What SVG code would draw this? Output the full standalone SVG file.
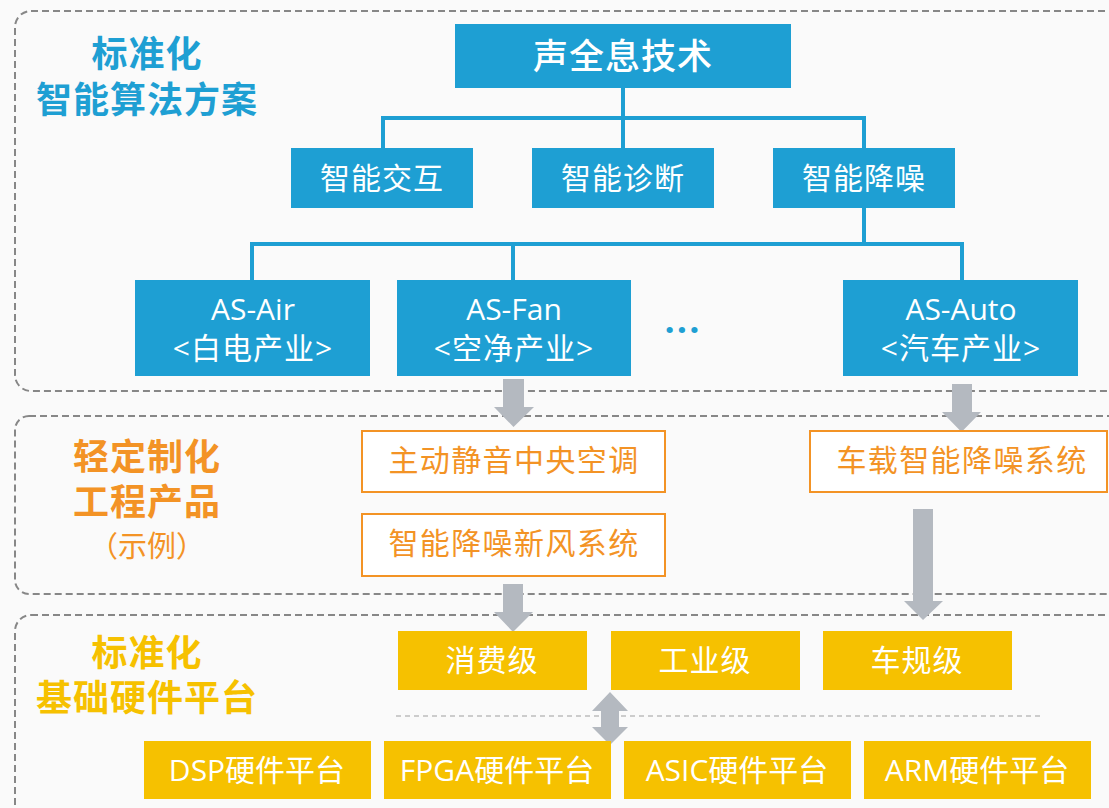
<svg xmlns="http://www.w3.org/2000/svg" width="1109" height="808" viewBox="0 0 1109 808">
<style>
text{font-family:"Open Sans","Noto Sans CJK SC",sans-serif;text-anchor:middle}
.panel{fill:none;stroke:#878787;stroke-width:2;stroke-dasharray:7 4}
.blue{fill:#1E9FD3}
.yel{fill:#F6C100}
.ora{fill:#FFFFFF;stroke:#F39325;stroke-width:2}
.wt{fill:#FFFFFF;font-size:30px;letter-spacing:1px}
.ot{fill:#F39325;font-size:30px;letter-spacing:1.4px}
.lat{fill:#FFFFFF;font-size:30px}
.tree{fill:none;stroke:#1E9FD3;stroke-width:4;stroke-linejoin:miter;stroke-linecap:square}
.arr{fill:#B4B9C0}
.ttl{font-size:36px;font-weight:bold;letter-spacing:1px}
</style>
<rect width="1109" height="808" fill="#FAFAFA"/>
<g id="panels">
<rect class="panel" x="15" y="11" width="1130" height="380" rx="16"/>
<rect class="panel" x="15" y="416" width="1130" height="178" rx="14"/>
<rect class="panel" x="15" y="615" width="1130" height="210" rx="16"/>
<line x1="396" y1="716" x2="1043" y2="716" stroke="#BDBDBD" stroke-width="1.5" stroke-dasharray="5 4"/>
</g>
<g id="titles">
<text class="ttl" x="147" y="67" fill="#1E9FD3">标准化</text>
<text class="ttl" x="147" y="113" fill="#1E9FD3">智能算法方案</text>
<text class="ttl" x="147" y="470" fill="#F39325">轻定制化</text>
<text class="ttl" x="147" y="515" fill="#F39325">工程产品</text>
<text x="147" y="557" fill="#F39325" style="font-size:29px">（示例）</text>
<text class="ttl" x="147" y="666" fill="#F6C100">标准化</text>
<text class="ttl" x="147" y="711" fill="#F6C100">基础硬件平台</text>
</g>
<g id="connectors">
<polyline class="tree" points="623,88 623,118"/>
<polyline class="tree" points="383,148 383,118 864,118 864,148"/>
<polyline class="tree" points="623,118 623,148"/>
<polyline class="tree" points="864,208 864,244"/>
<polyline class="tree" points="252,280 252,244 962,244 962,280"/>
<polyline class="tree" points="513,244 513,280"/>
<polygon class="arr" points="503,379 524,379 524,407 534,407 513.5,427 494,407 503,407"/>
<polygon class="arr" points="503,584 523,584 523,612 533,612 513,632 494,612 503,612"/>
<polygon class="arr" points="952,384 972,384 972,412 981,412 961.5,432 942,412 952,412"/>
<polygon class="arr" points="913,509 933,509 933,601 943,601 923,620 904,601 913,601"/>
<polygon class="arr" points="610,692 628,711 619,711 619,727 628,727 610,745 592,727 601,727 601,711 592,711"/>
</g>
<g id="n-root"><rect class="blue" x="455" y="24" width="336" height="64"/><text class="wt" x="623" y="69" style="font-size:35px;font-weight:500">声全息技术</text></g>
<g id="n-jiaohu"><rect class="blue" x="291" y="148" width="182" height="60"/><text class="wt" x="382" y="189">智能交互</text></g>
<g id="n-zhenduan"><rect class="blue" x="532" y="148" width="182" height="60"/><text class="wt" x="623" y="189">智能诊断</text></g>
<g id="n-jiangzao"><rect class="blue" x="773" y="148" width="182" height="60"/><text class="wt" x="864" y="189">智能降噪</text></g>
<g id="n-asair"><rect class="blue" x="135" y="280" width="235" height="96"/><text class="lat" x="253" y="320">AS-Air</text><text class="wt" x="253" y="359">&lt;白电产业&gt;</text></g>
<g id="n-asfan"><rect class="blue" x="397" y="280" width="234" height="96"/><text class="lat" x="514" y="320">AS-Fan</text><text class="wt" x="514" y="359">&lt;空净产业&gt;</text></g>
<g id="n-dots"><text x="683" y="333" fill="#1E9FD3" style="font-size:36px;font-weight:bold;letter-spacing:2px">...</text></g>
<g id="n-asauto"><rect class="blue" x="843" y="280" width="235" height="96"/><text class="lat" x="961" y="320">AS-Auto</text><text class="wt" x="961" y="359">&lt;汽车产业&gt;</text></g>
<g id="n-kongtiao"><rect class="ora" x="362" y="431" width="303" height="61"/><text class="ot" x="514" y="471">主动静音中央空调</text></g>
<g id="n-xinfeng"><rect class="ora" x="362" y="514" width="303" height="62"/><text class="ot" x="514" y="554">智能降噪新风系统</text></g>
<g id="n-chezai"><rect class="ora" x="810" y="431" width="297" height="61"/><text class="ot" x="962" y="471">车载智能降噪系统</text></g>
<g id="n-xiaofei"><rect class="yel" x="398" y="631" width="189" height="59"/><text class="wt" x="492" y="671">消费级</text></g>
<g id="n-gongye"><rect class="yel" x="611" y="631" width="189" height="59"/><text class="wt" x="705" y="671">工业级</text></g>
<g id="n-chegui"><rect class="yel" x="823" y="631" width="189" height="59"/><text class="wt" x="917" y="671">车规级</text></g>
<g id="n-dsp"><rect class="yel" x="144" y="741" width="227" height="58"/><text class="lat" x="257" y="781">DSP硬件平台</text></g>
<g id="n-fpga"><rect class="yel" x="384" y="741" width="227" height="58"/><text class="lat" x="497" y="781">FPGA硬件平台</text></g>
<g id="n-asic"><rect class="yel" x="624" y="741" width="227" height="58"/><text class="lat" x="737" y="781">ASIC硬件平台</text></g>
<g id="n-arm"><rect class="yel" x="864" y="741" width="227" height="58"/><text class="lat" x="977" y="781">ARM硬件平台</text></g>
</svg>
